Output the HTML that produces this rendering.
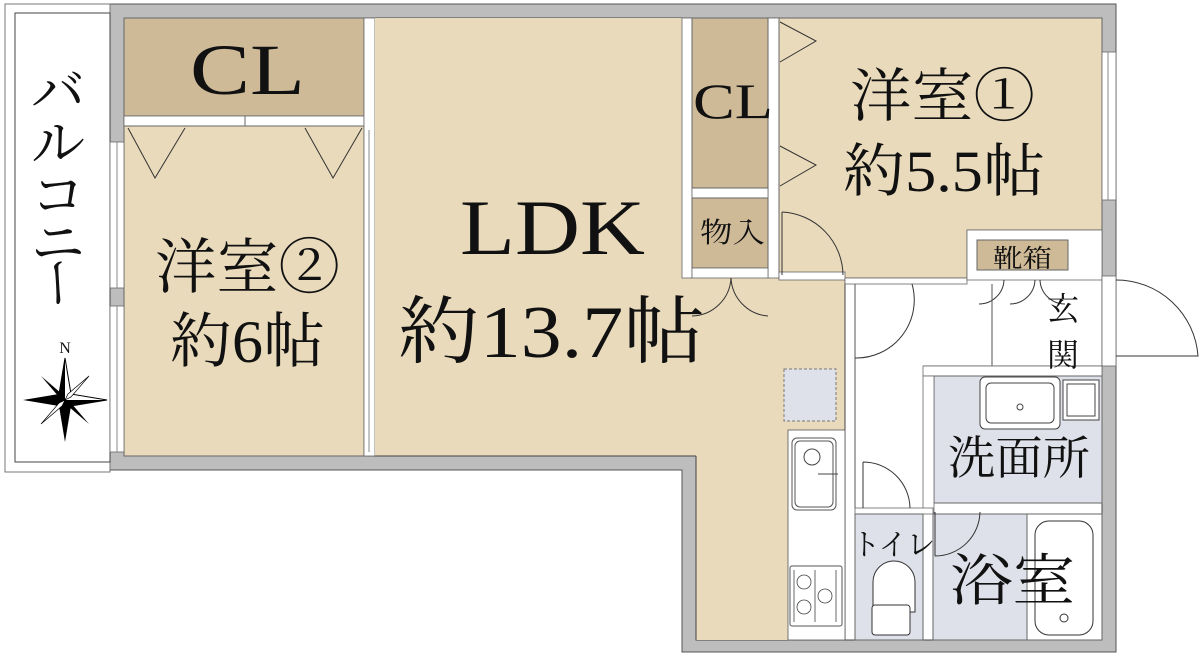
<!DOCTYPE html>
<html><head><meta charset="utf-8"><style>
html,body{margin:0;padding:0;background:#fff;}
svg{display:block;}
text{font-family:"Liberation Serif","Noto Serif CJK JP","Noto Serif CJK SC",serif;fill:#111;}
</style></head><body>
<svg width="1200" height="656" viewBox="0 0 1200 656" xmlns="http://www.w3.org/2000/svg">
<polygon points="110,4 1116,4 1116,652 682,652 682,470 110,470" fill="#bdbdbd" stroke="#555" stroke-width="1"/>
<rect x="5" y="4" width="105" height="468" fill="#fff" stroke="#777" stroke-width="1"/>
<rect x="15" y="13" width="95" height="449" fill="#fff" stroke="#444" stroke-width="1"/>
<polygon points="124,18 1102,18 1102,640 696,640 696,456 124,456" fill="#fff" stroke="#444" stroke-width="1"/>
<rect x="124" y="18" width="240" height="98" fill="#cfba98" stroke="#666" stroke-width="1"/>
<rect x="124" y="116" width="240" height="10" fill="#fff" stroke="#666" stroke-width="0.8"/>
<line x1="245" y1="116" x2="245" y2="126" stroke="#666"/>
<rect x="124" y="126" width="240" height="330" fill="#e8dabb" stroke="#666" stroke-width="1"/>
<polyline points="128,128 155,178 185,128" fill="none" stroke="#333" stroke-width="1"/>
<polyline points="305,128 333,178 362,128" fill="none" stroke="#333" stroke-width="1"/>
<rect x="110" y="142" width="14" height="146" fill="#fff" stroke="#666" stroke-width="0.8"/>
<line x1="117" y1="142" x2="117" y2="288" stroke="#888"/>
<rect x="110" y="306" width="14" height="146" fill="#fff" stroke="#666" stroke-width="0.8"/>
<line x1="117" y1="306" x2="117" y2="452" stroke="#888"/>
<rect x="364" y="18" width="11" height="438" fill="#fff" stroke="#666" stroke-width="0.8"/>
<line x1="369" y1="130" x2="369" y2="452" stroke="#888"/>
<rect x="375" y="18" width="307" height="438" fill="#e8dabb" stroke="none"/>
<rect x="696" y="278" width="149" height="362" fill="#e8dabb" stroke="none"/>
<rect x="682" y="278" width="14" height="178" fill="#e8dabb"/>
<line x1="375" y1="456" x2="696" y2="456" stroke="#444"/>
<line x1="696" y1="456" x2="696" y2="640" stroke="#444"/>
<line x1="845" y1="280" x2="845" y2="640" stroke="#444"/>
<rect x="784" y="369" width="52" height="52" fill="#dfe1ea" stroke="#777" stroke-dasharray="3,2"/>
<rect x="788" y="430" width="57" height="210" fill="#fff" stroke="#555" stroke-width="0.8"/>
<rect x="792" y="438" width="44" height="72" rx="5" fill="#fff" stroke="#555"/>
<rect x="795" y="441" width="38" height="66" rx="5" fill="#fff" stroke="#555"/>
<circle cx="812" cy="457" r="8" fill="none" stroke="#444"/>
<line x1="818" y1="474" x2="838" y2="474" stroke="#444"/>
<rect x="790" y="566" width="52" height="60" rx="2" fill="#fff" stroke="#555"/>
<g fill="none" stroke="#444" stroke-width="0.8">
<circle cx="804" cy="582" r="7"/><circle cx="804" cy="607" r="7"/><circle cx="825" cy="596" r="7"/>
<line x1="794" y1="570" x2="794" y2="622"/><line x1="815" y1="570" x2="815" y2="622"/><line x1="836" y1="570" x2="836" y2="622"/>
</g>
<rect x="682" y="18" width="10" height="260" fill="#fff" stroke="#666" stroke-width="0.8"/>
<rect x="768" y="18" width="11" height="260" fill="#fff" stroke="#666" stroke-width="0.8"/>
<rect x="692" y="188" width="76" height="10" fill="#fff" stroke="#666" stroke-width="0.8"/>
<rect x="692" y="18" width="76" height="170" fill="#cfba98" stroke="#666"/>
<rect x="692" y="198" width="76" height="70" fill="#cfba98" stroke="#666"/>
<rect x="692" y="268" width="76" height="10" fill="#fff" stroke="#666" stroke-width="0.8"/>
<path d="M731,278 A40,40 0 0 1 692,316 M731,278 A40,40 0 0 0 768,316" fill="none" stroke="#333"/>
<polygon points="779,18 1102,18 1102,230 967,230 967,278 779,278" fill="#e8dabb" stroke="#666"/>
<polyline points="780,22 816,41 780,62" fill="none" stroke="#333"/>
<polyline points="780,146 816,165 780,186" fill="none" stroke="#333"/>
<rect x="779" y="272" width="66" height="8" fill="#fff" stroke="#666" stroke-width="0.8"/>
<path d="M782,212 A64,64 0 0 1 843,275" fill="none" stroke="#333"/>
<line x1="782" y1="212" x2="782" y2="275" stroke="#333"/>
<rect x="845" y="278" width="122" height="6" fill="#fff" stroke="#666" stroke-width="0.8"/>
<rect x="967" y="230" width="135" height="50" fill="#fff" stroke="#666" stroke-width="0.8"/>
<rect x="977" y="240" width="91" height="30" fill="#cfba98" stroke="#666"/>
<path d="M979,304 A25,25 0 0 0 1004,280 M1010,304 A25,25 0 0 0 1035,280 M1040,280 A25,25 0 0 0 1065,304" fill="none" stroke="#333"/>
<rect x="1102" y="52" width="14" height="148" fill="#fff" stroke="#666" stroke-width="0.8"/>
<line x1="1108" y1="52" x2="1108" y2="200" stroke="#888"/>
<rect x="1102" y="276" width="14" height="90" fill="#fff" stroke="#666" stroke-width="0.8"/>
<path d="M1116,280 A82,82 0 0 1 1198,356 L1116,356" fill="none" stroke="#333"/>
<line x1="855" y1="284" x2="855" y2="508" stroke="#555"/>
<path d="M912,284 A58,58 0 0 1 855,358 L855,358" fill="none" stroke="#333"/>
<line x1="992" y1="284" x2="992" y2="366" stroke="#555"/>
<line x1="923" y1="366" x2="1102" y2="366" stroke="#555"/>
<rect x="923" y="366" width="179" height="10" fill="#fff" stroke="#666" stroke-width="0.8"/>
<rect x="934" y="376" width="168" height="127" fill="#dfe1ea" stroke="#666"/>
<rect x="923" y="376" width="11" height="137" fill="#fff" stroke="#666" stroke-width="0.8"/>
<rect x="980" y="377" width="80" height="52" rx="5" fill="#fff" stroke="#444"/>
<rect x="986" y="383" width="68" height="40" rx="5" fill="#fff" stroke="#444"/>
<circle cx="1020" cy="407" r="3" fill="none" stroke="#444"/>
<rect x="1063" y="380" width="36" height="40" fill="#fff" stroke="#444"/>
<rect x="1067" y="384" width="28" height="32" fill="#fff" stroke="#444"/>
<rect x="855" y="508" width="78" height="6" fill="#fff" stroke="#666" stroke-width="0.8"/>
<rect x="855" y="514" width="68" height="126" fill="#dfe1ea" stroke="#666"/>
<path d="M863,462 A47,47 0 0 1 910,508" fill="none" stroke="#333"/>
<line x1="863" y1="462" x2="863" y2="508" stroke="#333"/>
<path d="M873,612 L873,582 A21,21 0 0 1 915,582 L915,612 Z" fill="#fff" stroke="#333"/>
<rect x="872" y="605" width="38" height="30" rx="3" fill="#fff" stroke="#333"/>
<rect x="933" y="514" width="94" height="126" fill="#dfe1ea" stroke="#666"/>
<path d="M935,556 A45,45 0 0 0 980,512" fill="none" stroke="#333"/>
<line x1="935" y1="512" x2="935" y2="556" stroke="#333"/>
<rect x="1027" y="514" width="75" height="126" fill="#fff" stroke="#666"/>
<rect x="1035" y="521" width="58" height="114" rx="14" fill="#fff" stroke="#333"/>
<circle cx="1064" cy="618" r="4" fill="none" stroke="#333"/>
<g transform="translate(65,400)">
<polygon points="0,-42 6,-6 0,0 -6,-6" fill="#fff" stroke="#000"/>
<polygon points="0,42 6,6 0,0 -6,6" fill="#000"/>
<polygon points="-42,0 -6,-6 0,0 -6,6" fill="#000"/>
<polygon points="42,0 6,-6 0,0 6,6" fill="#fff" stroke="#000"/>
<polygon points="0,-42 -6,-6 0,0" fill="#000"/>
<polygon points="42,0 6,6 0,0" fill="#000"/>
<polygon points="-24,-24 -3,-6 0,0 -6,-3" fill="#000"/>
<polygon points="24,24 3,6 0,0 6,3" fill="#000"/>
<polygon points="24,-24 3,-6 0,0 6,-3" fill="#fff" stroke="#000" stroke-width="0.7"/>
<polygon points="-24,24 -3,6 0,0 -6,3" fill="#fff" stroke="#000" stroke-width="0.7"/>
<text x="0" y="-47" font-size="16" text-anchor="middle">N</text>
</g>
<text x="58" y="110" font-size="54" text-anchor="middle">バ</text>
<text x="58" y="162" font-size="54" text-anchor="middle">ル</text>
<text x="58" y="214" font-size="54" text-anchor="middle">コ</text>
<text x="58" y="262" font-size="54" text-anchor="middle">ニ</text>
<text x="58" y="302" font-size="54" text-anchor="middle" transform="rotate(90 58 283)">ー</text>
<text x="190" y="94" font-size="72" textLength="115" lengthAdjust="spacingAndGlyphs">CL</text>
<text x="155" y="288" font-size="60" textLength="185" lengthAdjust="spacingAndGlyphs">洋室②</text>
<text x="170" y="362" font-size="60" textLength="155" lengthAdjust="spacingAndGlyphs">約6帖</text>
<text x="460" y="254" font-size="78" textLength="185" lengthAdjust="spacingAndGlyphs">LDK</text>
<text x="398" y="357" font-size="74" textLength="307" lengthAdjust="spacingAndGlyphs">約13.7帖</text>
<text x="693" y="118" font-size="50" textLength="80" lengthAdjust="spacingAndGlyphs">CL</text>
<text x="700" y="242" font-size="28" textLength="65" lengthAdjust="spacingAndGlyphs">物入</text>
<text x="850" y="116" font-size="58" textLength="185" lengthAdjust="spacingAndGlyphs">洋室①</text>
<text x="843" y="191" font-size="58" textLength="202" lengthAdjust="spacingAndGlyphs">約5.5帖</text>
<text x="993" y="267" font-size="25" textLength="59" lengthAdjust="spacingAndGlyphs">靴箱</text>
<text x="1063" y="320" font-size="32" text-anchor="middle">玄</text>
<text x="1063" y="366" font-size="32" text-anchor="middle">関</text>
<text x="948" y="474" font-size="46" textLength="142" lengthAdjust="spacingAndGlyphs">洗面所</text>
<text x="852" y="555" font-size="30" textLength="83" lengthAdjust="spacingAndGlyphs">トイレ</text>
<text x="950" y="600" font-size="56" textLength="125" lengthAdjust="spacingAndGlyphs">浴室</text>
</svg>
</body></html>
